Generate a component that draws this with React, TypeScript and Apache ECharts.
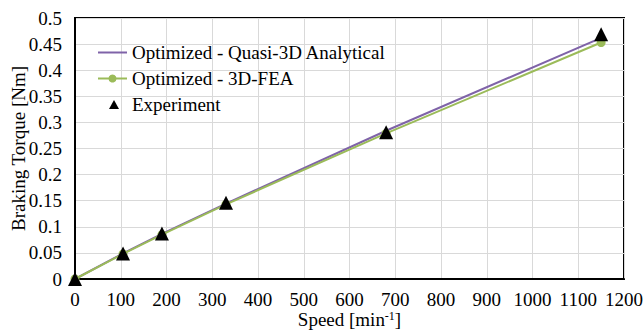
import React, { useEffect, useRef } from "react";
import * as echarts from "echarts";

const speeds = [0, 105, 190, 330, 680, 1150];
const analytical = [0, 0.049, 0.0865, 0.1445, 0.284, 0.462];
const fea = [0, 0.048, 0.085, 0.143, 0.279, 0.453];
const experiment = [0, 0.049, 0.087, 0.146, 0.281, 0.469];

const seriesNames = [
  "Optimized - Quasi-3D Analytical",
  "Optimized - 3D-FEA",
  "Experiment",
];

const font = "'Liberation Serif', 'Times New Roman', serif";
const FS = 19;

export default function App() {
  const ref = useRef<HTMLDivElement>(null);
  useEffect(() => {
    if (!ref.current) return;
    const chart = echarts.init(ref.current, undefined, { renderer: "svg" });
    const pair = (ys: number[]) => speeds.map((x, i) => [x, ys[i]]);
    chart.setOption({
      animation: false,
      backgroundColor: "#fff",
      textStyle: { fontFamily: font },
      grid: {
        left: 75,
        right: 19,
        top: 18,
        bottom: 52,
        containLabel: false,
        outerBoundsMode: "none",
        show: true,
        borderColor: "#000",
        borderWidth: 2,
      },
      legend: {
        orient: "vertical",
        left: 92,
        top: 38,
        itemGap: 7,
        itemWidth: 29,
        itemHeight: 10,
        textStyle: { fontFamily: font, fontSize: FS, color: "#000" },
        data: [
          { name: seriesNames[0], itemStyle: { opacity: 0 } },
          { name: seriesNames[1] },
          {
            name: seriesNames[2],
            icon: "path://M0,0 M29,10 M11,9.5 L16,0.5 L21,9.5 Z",
            itemStyle: { color: "#000", opacity: 1 },
          },
        ],
      },
      xAxis: {
        type: "value",
        min: 0,
        max: 1200,
        interval: 100,
        name: "Speed [min{sup|-1}]",
        nameLocation: "middle",
        nameGap: 31,
        nameMoveOverlap: false,
        nameTextStyle: {
          fontFamily: font,
          fontSize: FS,
          color: "#000",
          rich: {
            sup: {
              fontFamily: font,
              fontSize: 12,
              color: "#000",
              verticalAlign: "top",
              padding: [0, 0, 6, 0],
            },
          },
        },
        axisLine: { show: true, lineStyle: { color: "#000", width: 2 } },
        axisTick: { show: false },
        axisLabel: {
          fontFamily: font,
          fontSize: FS,
          color: "#000",
          margin: 11,
          formatter: (v: number) => String(v),
        },
        splitLine: { show: true, lineStyle: { color: "#d9d9d9", width: 1 } },
      },
      yAxis: {
        type: "value",
        min: 0,
        max: 0.5,
        interval: 0.05,
        name: "Braking Torque [Nm]",
        nameLocation: "middle",
        nameGap: 47,
        nameMoveOverlap: false,
        nameTextStyle: { fontFamily: font, fontSize: FS, color: "#000" },
        axisLine: { show: true, lineStyle: { color: "#000", width: 2 } },
        axisTick: { show: false },
        axisLabel: {
          fontFamily: font,
          fontSize: FS,
          color: "#000",
          margin: 13,
          formatter: (v: number) => String(parseFloat(v.toFixed(2))),
        },
        splitLine: { show: true, lineStyle: { color: "#d9d9d9", width: 1 } },
      },
      series: [
        {
          name: seriesNames[0],
          type: "line",
          data: pair(analytical),
          symbol: "none",
          lineStyle: { color: "#7f63a8", width: 2 },
          itemStyle: { color: "#7f63a8" },
          z: 2,
        },
        {
          name: seriesNames[1],
          type: "line",
          data: pair(fea),
          symbol: "circle",
          symbolSize: 9,
          lineStyle: { color: "#9bbb59", width: 2 },
          itemStyle: { color: "#9bbb59" },
          z: 3,
        },
        {
          name: seriesNames[2],
          type: "scatter",
          data: pair(experiment),
          symbol: "triangle",
          symbolSize: 14,
          itemStyle: { color: "#000", opacity: 1 },
          z: 4,
        },
      ],
    });
    return () => chart.dispose();
  }, []);
  return (
    <div
      ref={ref}
      style={{ position: "fixed", left: 0, top: 0, width: 643, height: 331 }}
    />
  );
}
